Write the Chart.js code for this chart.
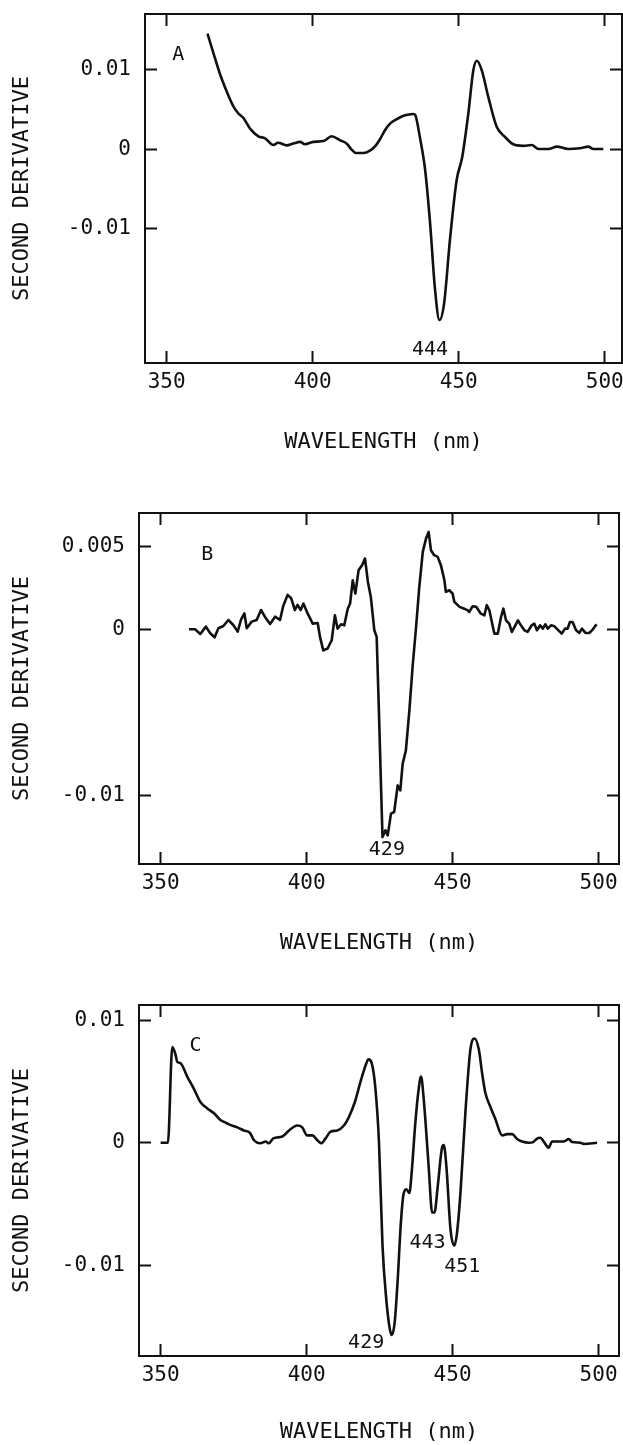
<!DOCTYPE html>
<html>
<head>
<meta charset="utf-8">
<script src="https://cdn.jsdelivr.net/npm/chart.js@4.4.1/dist/chart.umd.min.js"></script>
<style>
  html, body { margin: 0; padding: 0; background: #fff; }
  #wrap { position: relative; width: 623px; height: 1445px; }
  canvas { position: absolute; left: 0; }
</style>
</head>
<body>
<div id="wrap">
  <canvas id="panelA" width="623" height="470" style="top:0px"></canvas>
  <canvas id="panelB" width="623" height="490" style="top:470px"></canvas>
  <canvas id="panelC" width="623" height="485" style="top:960px"></canvas>
</div>
<script>
// panel A: wavelength (nm) and second derivative
const waveA = [364.0, 366.0, 368.3, 370.5, 372.8, 374.5, 376.3, 378.5, 381.4, 383.7, 386.5, 388.2, 391.1, 393.4, 395.7, 397.4, 400.2, 403.7, 406.5, 409.4, 411.6, 413.4, 414.8, 417.4, 419.6, 421.5, 423.0, 424.8, 426.5, 428.5, 430.5, 432.5, 434.5, 435.3, 436.7, 438.5, 440.2, 441.9, 443.4, 445.0, 447.0, 449.3, 451.2, 453.3, 455.0, 456.2, 457.9, 460.1, 463.0, 465.9, 468.7, 472.1, 475.0, 477.3, 480.7, 483.6, 487.5, 491.5, 494.4, 496.1, 499.5];
const derivA = [0.0145, 0.0121, 0.0094, 0.0073, 0.0054, 0.0045, 0.0039, 0.0026, 0.0016, 0.00135, 0.0005, 0.0008, 0.00046, 0.0007, 0.0009, 0.0006, 0.0009, 0.001, 0.0016, 0.0011, 0.0007, -0.0001, -0.0005, -0.0005, -0.0002, 0.0004, 0.0012, 0.0024, 0.0032, 0.0037, 0.0041, 0.0043, 0.0044, 0.0041, 0.0015, -0.0026, -0.0093, -0.0177, -0.0215, -0.0194, -0.0114, -0.0039, -0.001, 0.0045, 0.0099, 0.0111, 0.0099, 0.0066, 0.0028, 0.0015, 0.0006, 0.0004, 0.0005, 0, 0, 0.0003, 0, 0.0001, 0.0003, 0, 0];

// panel B
const waveB = [359.7, 361.8, 363.6, 365.5, 367.0, 368.5, 369.8, 371.5, 373.2, 374.9, 376.4, 377.5, 378.7, 379.5, 381.2, 382.9, 384.4, 385.7, 387.5, 389.2, 390.9, 392.0, 393.5, 394.7, 396.0, 396.9, 398.0, 398.9, 400.4, 402.1, 403.8, 404.6, 405.7, 407.2, 408.6, 409.7, 410.6, 411.8, 412.9, 414.1, 414.9, 415.8, 416.7, 417.8, 419.0, 420.0, 421.0, 422.0, 423.2, 424.0, 424.7, 425.5, 426.0, 427.0, 427.8, 428.9, 430.0, 431.2, 432.1, 432.9, 434.0, 435.2, 436.3, 437.5, 438.6, 439.8, 440.9, 441.8, 442.6, 443.7, 444.9, 446.0, 447.2, 447.7, 448.9, 450.0, 450.6, 452.4, 454.0, 455.2, 455.7, 456.9, 458.1, 459.7, 460.9, 461.7, 462.6, 464.3, 465.5, 466.6, 467.4, 468.3, 469.4, 470.3, 471.5, 472.4, 473.4, 474.6, 475.7, 477.1, 478.0, 478.9, 480.0, 480.9, 481.8, 482.6, 483.7, 484.9, 486.0, 487.4, 488.5, 489.4, 490.2, 491.1, 492.3, 493.4, 494.3, 495.5, 496.8, 498.0, 499.3];
const derivB = [0, 0, -0.00028, 0.00016, -0.00024, -0.00048, 0.00006, 0.0002, 0.00056, 0.00026, -0.00014, 0.00056, 0.00096, 0.00006, 0.00046, 0.00056, 0.00116, 0.00076, 0.00032, 0.00076, 0.00056, 0.0014, 0.00207, 0.00187, 0.00116, 0.00147, 0.00116, 0.00155, 0.00094, 0.00034, 0.00038, -0.00046, -0.00127, -0.00116, -0.00066, 0.00084, 0.00004, 0.0003, 0.00024, 0.00124, 0.00155, 0.00295, 0.00215, 0.00355, 0.00386, 0.00426, 0.00285, 0.00195, -0.00006, -0.00046, -0.00448, -0.0095, -0.01251, -0.0121, -0.01241, -0.0111, -0.011, -0.0094, -0.0097, -0.0081, -0.0073, -0.0049, -0.00227, 0.00014, 0.00255, 0.00466, 0.00546, 0.00586, 0.00476, 0.00446, 0.00436, 0.00386, 0.00295, 0.00225, 0.00235, 0.00215, 0.00165, 0.00135, 0.00124, 0.00114, 0.00104, 0.00139, 0.00135, 0.00094, 0.00084, 0.00145, 0.00114, -0.00026, -0.00026, 0.00074, 0.00124, 0.00054, 0.00034, -0.00016, 0.00024, 0.00054, 0.00024, -0.00006, -0.00016, 0.00024, 0.00034, -0.00006, 0.00024, 0.00004, 0.0003, 0.00004, 0.00024, 0.00018, -0.00002, -0.00026, 0.00004, 0.00004, 0.00044, 0.00044, -0.00006, -0.00022, 0.00004, -0.00022, -0.00022, -0.00002, 0.0003];

// panel C
const waveC = [350.0, 352.5, 354.0, 355.1, 355.7, 356.8, 359.1, 361.4, 363.7, 366.0, 368.3, 370.5, 371.7, 373.4, 376.3, 378.5, 380.6, 382.0, 384.2, 386.0, 387.1, 388.6, 391.7, 394.0, 396.8, 398.5, 400.2, 401.9, 403.7, 405.0, 406.5, 408.2, 410.5, 412.8, 414.5, 416.5, 418.5, 420.2, 421.2, 422.3, 423.5, 424.8, 426.0, 427.3, 428.5, 429.2, 430.2, 431.2, 432.3, 433.2, 434.2, 435.2, 436.0, 437.2, 438.3, 439.2, 440.1, 441.8, 443.0, 443.8, 444.9, 446.4, 447.0, 447.9, 449.3, 450.6, 451.5, 452.7, 454.4, 456.1, 457.5, 459.0, 460.1, 461.2, 463.0, 464.7, 467.0, 468.7, 470.4, 472.1, 473.8, 476.1, 477.6, 478.7, 480.1, 481.2, 482.9, 484.1, 486.4, 488.1, 489.8, 490.9, 493.8, 494.9, 499.5];
const derivC = [0, 0, 0.0078, 0.0072, 0.0066, 0.0065, 0.0054, 0.0044, 0.0033, 0.0028, 0.0024, 0.00185, 0.0017, 0.0015, 0.00125, 0.001, 0.0008, 0.0002, -0.00005, 0.0001, -0.00005, 0.00035, 0.0005, 0.001, 0.0014, 0.00125, 0.0006, 0.0006, 0.0002, -0.00005, 0.00035, 0.0009, 0.001, 0.0014, 0.0021, 0.0033, 0.005, 0.0063, 0.0068, 0.0065, 0.0046, 0.0, -0.0084, -0.0128, -0.0152, -0.0157, -0.0146, -0.0112, -0.0065, -0.0042, -0.0038, -0.0041, -0.0024, 0.0015, 0.0042, 0.0054, 0.0036, -0.0019, -0.0057, -0.0057, -0.0036, -0.0004, -0.0002, -0.002, -0.0071, -0.0084, -0.0074, -0.0041, 0.0025, 0.0076, 0.0085, 0.0076, 0.0057, 0.0041, 0.0029, 0.0019, 0.0006, 0.0007, 0.0007, 0.0003, 0.0001, 0, 0.00005, 0.0003, 0.0004, 0.0001, -0.0004, 0.0001, 0.0001, 0.0001, 0.0003, 0.00005, 0, -0.0001, 0];

const xTicks = [350, 400, 450, 500];
const yTicksA = [0.01, 0, -0.01];
const yTicksB = [0.005, 0, -0.01];
const yTicksC = [0.01, 0, -0.01];

// text inside the plots, placed in data units
const notesA = [{ text: "A", x: 354, y: 0.0119 }, { text: "444", x: 440.2, y: -0.0252 }];
const notesB = [{ text: "B", x: 366, y: 0.0045 }, { text: "429", x: 427.5, y: -0.0133 }];
const notesC = [
  { text: "C", x: 362, y: 0.0079 },
  { text: "429", x: 420.4, y: -0.0163 },
  { text: "443", x: 441.4, y: -0.0082 },
  { text: "451", x: 453.3, y: -0.0101 },
];

const INK = "#111";
const FONT = "'DejaVu Sans Mono', monospace";
Chart.defaults.font.family = FONT;
Chart.defaults.color = INK;

const peakLabels = {
  id: "peakLabels",
  afterDatasetsDraw(chart, args, opts) {
    const ctx = chart.ctx;
    const xs = chart.scales.x;
    const ys = chart.scales.y;
    ctx.save();
    ctx.font = `20px ${FONT}`;
    ctx.fillStyle = INK;
    ctx.textAlign = "center";
    ctx.textBaseline = "middle";
    for (const n of opts.notes || []) {
      ctx.fillText(n.text, xs.getPixelForValue(n.x), ys.getPixelForValue(n.y));
    }
    ctx.restore();
  },
};

function fixTicks(values) {
  return (scale) => {
    scale.ticks = values.map((v) => ({ value: v }));
  };
}

// fixed axis size, and no extra room for overhanging labels
function fixSize(prop, size) {
  return (s) => {
    s[prop] = size;
    s.paddingTop = s.paddingBottom = s.paddingLeft = s.paddingRight = 0;
  };
}

const frameGrid = { drawOnChartArea: false, tickLength: -12, tickWidth: 2, tickColor: INK };
const frameBorder = { display: true, color: INK, width: 2 };

function makePanel(canvas, p) {
  const h = canvas.height;
  const xRange = { min: 342.6, max: p.xMax };
  const yRange = { min: p.yMin, max: p.yMax };
  return new Chart(canvas, {
    type: "line",
    data: {
      datasets: [
        {
          data: p.wave.map((w, i) => ({ x: w, y: p.deriv[i] })),
          borderColor: INK,
          borderWidth: 2.6,
          pointRadius: 0,
          fill: false,
          cubicInterpolationMode: p.smooth ? "monotone" : "default",
          tension: 0,
          borderJoinStyle: "round",
        },
      ],
    },
    options: {
      responsive: false,
      animation: false,
      events: [],
      layout: { padding: { left: 0, top: p.top, right: 623 - p.right, bottom: 0 } },
      scales: {
        x: {
          type: "linear",
          position: "bottom",
          ...xRange,
          afterBuildTicks: fixTicks(xTicks),
          afterFit: fixSize("height", h - p.bottom),
          grid: frameGrid,
          border: frameBorder,
          ticks: { font: { size: 21 }, color: INK, padding: 19, maxRotation: 0, autoSkip: false, callback: (v) => String(v) },
          title: { display: true, text: "WAVELENGTH (nm)", font: { size: 22 }, color: INK, padding: { top: 0, bottom: p.titleBottom } },
        },
        xTop: {
          type: "linear",
          position: "top",
          ...xRange,
          afterBuildTicks: fixTicks(xTicks),
          afterFit: fixSize("height", 0),
          grid: frameGrid,
          border: frameBorder,
          ticks: { display: false },
        },
        y: {
          type: "linear",
          position: "left",
          ...yRange,
          afterBuildTicks: fixTicks(p.yTicks),
          afterFit: fixSize("width", p.left),
          grid: frameGrid,
          border: frameBorder,
          ticks: { font: { size: 21 }, color: INK, padding: 26, callback: (v) => String(v) },
          title: { display: true, text: "SECOND DERIVATIVE", font: { size: 22 }, color: INK, padding: { top: 9, bottom: 0 } },
        },
        yRight: {
          type: "linear",
          position: "right",
          ...yRange,
          afterBuildTicks: fixTicks(p.yTicks),
          afterFit: fixSize("width", 0),
          grid: frameGrid,
          border: frameBorder,
          ticks: { display: false },
        },
      },
      plugins: {
        legend: { display: false },
        tooltip: { enabled: false },
        peakLabels: { notes: p.notes },
      },
    },
    plugins: [peakLabels],
  });
}

makePanel(document.getElementById("panelA"), {
  wave: waveA, deriv: derivA, yTicks: yTicksA, notes: notesA, smooth: true,
  xMax: 505.9, yMin: -0.0269, yMax: 0.01698,
  left: 145, top: 14, right: 622, bottom: 363, titleBottom: 15,
});
makePanel(document.getElementById("panelB"), {
  wave: waveB, deriv: derivB, yTicks: yTicksB, notes: notesB, smooth: false,
  xMax: 507.0, yMin: -0.01413, yMax: 0.0070,
  left: 139, top: 43, right: 619, bottom: 394, titleBottom: 4,
});
makePanel(document.getElementById("panelC"), {
  wave: waveC, deriv: derivC, yTicks: yTicksC, notes: notesC, smooth: true,
  xMax: 507.0, yMin: -0.01741, yMax: 0.01124,
  left: 139, top: 45, right: 619, bottom: 396, titleBottom: 0,
});
</script>
</body>
</html>
